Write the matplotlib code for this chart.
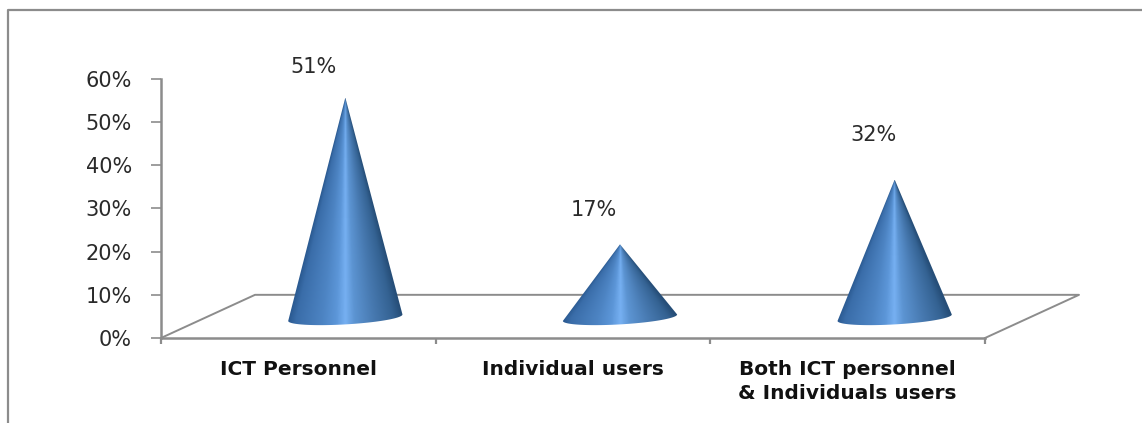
import numpy as np
import matplotlib
matplotlib.use("Agg")
import matplotlib.pyplot as plt
from matplotlib.colors import LinearSegmentedColormap
from matplotlib.patches import PathPatch
from matplotlib.path import Path

categories = ["ICT Personnel", "Individual users", "Both ICT personnel\n& Individuals users"]
values = [51, 17, 32]
tick_values = [0, 10, 20, 30, 40, 50, 60]

W, H = 1142, 423
fig = plt.figure(figsize=(W / 100, H / 100), dpi=100)
fig.patch.set_facecolor("white")

# plot area in pixels
ax = fig.add_axes([161 / W, (H - 338) / H, 824 / W, 259 / H])
ax.set_xlim(0, 3)
ax.set_ylim(0, 60)
ax.patch.set_visible(False)

grey = "#8c8c8c"

# outer chart frame
fig.add_artist(plt.Line2D([8 / W, 8 / W, 1], [0, (H - 10) / H, (H - 10) / H], color=grey, lw=1.6))

# spines and ticks
for s in ["top", "right"]:
    ax.spines[s].set_visible(False)
for s in ["left", "bottom"]:
    ax.spines[s].set_color(grey)
    ax.spines[s].set_linewidth(1.8)
ax.set_yticks(tick_values)
ax.set_yticklabels([str(v) + "%" for v in tick_values], fontsize=15, color="#2a2a2a")
ax.tick_params(axis="y", length=7, width=1.2, color=grey, pad=14)
ax.set_xticks([0, 1, 2, 3])
ax.set_xticklabels([])
ax.tick_params(axis="x", length=4.5, width=1.6, color=grey)

# 3D floor
depth_x = 94 / 824 * 3
depth_y = 10
ax.plot([0, depth_x, 3 + depth_x, 3], [0, depth_y, depth_y, 0], color=grey, lw=1.4, clip_on=False, zorder=1)

cmap = LinearSegmentedColormap.from_list("cone", [
    (0.0, "#29588f"), (0.07, "#3a6da9"), (0.3, "#4d84c3"), (0.42, "#5c96d8"), (0.5, "#76b0f2"),
    (0.58, "#5c94d2"), (0.75, "#4779b0"), (0.92, "#346292"), (1.0, "#264e78")])

radius = 0.208
tilt = 0.75
rise = 1.55

# value label offset from the cone tip, in points
label_offsets = [(-23, 22), (-19, 25), (-15, 32)]

for i, (name, v) in enumerate(zip(categories, values)):
    cx = i + 0.5 + depth_x / 2
    cy = depth_y / 2 - 0.3
    tip = cy + v

    # cone outline: tip, then the front half of the tilted base ellipse
    t = np.linspace(np.pi, 2 * np.pi, 60)
    ex = cx + radius * np.cos(t)
    ey = cy + rise * np.sin(t) + tilt * np.cos(t)
    verts = [(cx, tip)] + list(zip(ex, ey)) + [(cx, tip)]
    codes = [Path.MOVETO] + [Path.LINETO] * (len(verts) - 2) + [Path.CLOSEPOLY]
    outline = PathPatch(Path(verts, codes), transform=ax.transData, fc="none", ec="none")
    ax.add_patch(outline)

    # shading runs across the cone and narrows toward the tip
    xs = np.linspace(cx - radius * 1.02, cx + radius * 1.02, 240)
    ys = np.linspace(cy - rise - tilt - 0.2, tip, 500)
    gx, gy = np.meshgrid(xs, ys)
    half = radius * np.clip((tip - gy) / v, 0.004, 1)
    u = np.clip((gx - cx) / half / 2 + 0.5, 0, 1)
    im = ax.imshow(u, cmap=cmap, vmin=0, vmax=1, origin="lower", aspect="auto", zorder=3,
                   extent=[xs[0], xs[-1], ys[0], ys[-1]], interpolation="bilinear")
    im.set_clip_path(outline)

    # value label
    ax.annotate(str(v) + "%", (cx, tip), xytext=label_offsets[i], textcoords="offset points",
                ha="center", va="center", fontsize=15, color="#2a2a2a", zorder=4)

ax.set_xlim(0, 3)
ax.set_ylim(0, 60)

# category labels
for i, name in enumerate(categories):
    ax.text(i + 0.5, -5.2, name, ha="center", va="top", fontsize=14.5, fontweight="bold",
            color="#111111", linespacing=1.3)

fig.savefig("out.png", dpi=100)
